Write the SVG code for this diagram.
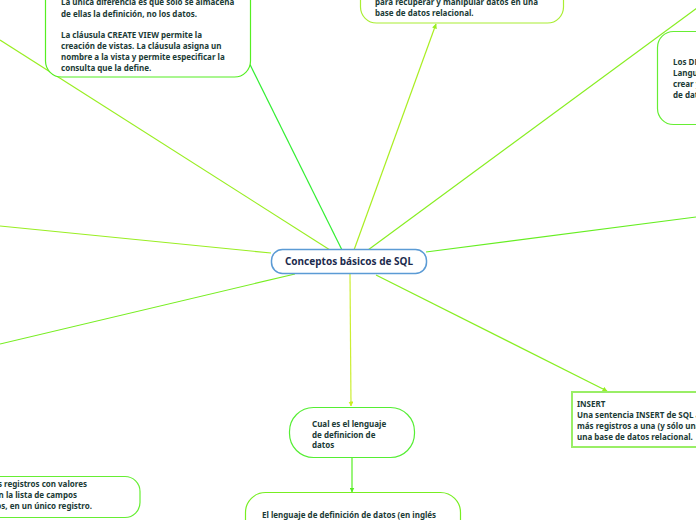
<svg xmlns="http://www.w3.org/2000/svg" width="696" height="520" viewBox="0 0 696 520">
<defs>
<marker id="ah" viewBox="0 0 10 10" refX="9" refY="5" markerWidth="5" markerHeight="5" orient="auto" markerUnits="userSpaceOnUse"><path d="M0,0 L10,5 L0,10 z" fill="#99ee22"/></marker>
<marker id="ahy" viewBox="0 0 10 10" refX="9" refY="5" markerWidth="5" markerHeight="5" orient="auto" markerUnits="userSpaceOnUse"><path d="M0,0 L10,5 L0,10 z" fill="#ccee22"/></marker>
<marker id="ahg" viewBox="0 0 10 10" refX="9" refY="5" markerWidth="5" markerHeight="5" orient="auto" markerUnits="userSpaceOnUse"><path d="M0,0 L10,5 L0,10 z" fill="#55ee22"/></marker>
</defs>
<style>
.t{font-family:"Noto Sans","Open Sans",sans-serif;font-weight:bold;font-size:8px;fill:#1b3b36}
.c{font-family:"Noto Sans","Open Sans",sans-serif;font-weight:bold;font-size:10px;fill:#1c2b4d}
.n{fill:#ffffff;stroke-width:1.2}
.l{fill:none;stroke-width:1.2}
</style>
<rect width="696" height="520" fill="#ffffff"/>
<g id="connectors">
<line class="l" x1="330" y1="250" x2="0" y2="40" stroke="#99ee22"/>
<line class="l" x1="342" y1="250" x2="218" y2="0" stroke="#33ee33"/>
<line class="l" x1="354" y1="250" x2="436" y2="24" stroke="#aaee22" marker-end="url(#ah)"/>
<line class="l" x1="368" y1="250" x2="697" y2="8" stroke="#88ee22"/>
<line class="l" x1="426" y1="252" x2="696" y2="217" stroke="#66ee22"/>
<line class="l" x1="271" y1="253" x2="0" y2="226" stroke="#99ee22"/>
<line class="l" x1="295" y1="274" x2="0" y2="344" stroke="#77ee22"/>
<line class="l" x1="350" y1="274" x2="351" y2="406" stroke="#ccee33" marker-end="url(#ahy)"/>
<line class="l" x1="376" y1="275" x2="607" y2="391" stroke="#88ee22" marker-end="url(#ah)"/>
<line class="l" x1="352" y1="457" x2="352" y2="492" stroke="#55ee22" marker-end="url(#ahg)"/>
</g>
<g id="node-vista">
<rect class="n" x="45.5" y="-60" width="205" height="137" rx="16" stroke="#55ee22"/>
<text class="t" x="61" y="4.5">La única diferencia es que sólo se almacena</text>
<text class="t" x="61" y="16.5">de ellas la definición, no los datos.</text>
<text class="t" x="61" y="37.5">La cláusula CREATE VIEW permite la</text>
<text class="t" x="61" y="48.5">creación de vistas. La cláusula asigna un</text>
<text class="t" x="61" y="59.5">nombre a la vista y permite especificar la</text>
<text class="t" x="61" y="70.5">consulta que la define.</text>
</g>
<g id="node-sql">
<rect class="n" x="360.5" y="-40" width="203" height="63" rx="16" stroke="#aaee33"/>
<text class="t" x="375" y="4.5">para recuperar y manipular datos en una</text>
<text class="t" x="375" y="16">base de datos relacional.</text>
</g>
<g id="node-ddl">
<rect class="n" x="657.5" y="31.5" width="80" height="93" rx="16" stroke="#66ee33"/>
<text class="t" x="673" y="65">Los DDL (Data Definition</text>
<text class="t" x="673" y="76">Language) permiten</text>
<text class="t" x="673" y="87">crear y definir nuevas bases</text>
<text class="t" x="673" y="98">de datos, campos e índices.</text>
</g>
<g id="node-central">
<rect x="271.5" y="249.5" width="155" height="24" rx="11" fill="#ffffff" stroke="#5b9bd5" stroke-width="1.5"/>
<text class="c" x="349" y="265" text-anchor="middle">Conceptos básicos de SQL</text>
</g>
<g id="node-insert">
<rect x="572" y="392" width="140" height="55" fill="#ffffff" stroke="#99ee66" stroke-width="2"/>
<text class="t" x="577" y="407">INSERT</text>
<text class="t" x="577" y="418">Una sentencia INSERT de SQL agrega uno o</text>
<text class="t" x="577" y="429">más registros a una (y sólo una) tabla en</text>
<text class="t" x="577" y="440">una base de datos relacional.</text>
</g>
<g id="node-cual">
<rect class="n" x="289.5" y="407.5" width="125" height="50" rx="24" stroke="#55ee33"/>
<text class="t" x="312" y="427">Cual es el lenguaje</text>
<text class="t" x="312" y="437.5">de definicion de</text>
<text class="t" x="312" y="448">datos</text>
</g>
<g id="node-lenguaje">
<rect class="n" x="245.5" y="492.5" width="215" height="60" rx="20" stroke="#77ee22"/>
<text class="t" x="262" y="518">El lenguaje de definición de datos (en inglés</text>
</g>
<g id="node-valores">
<rect class="n" x="-80" y="476.5" width="220" height="41" rx="15" stroke="#66ee33"/>
<text class="t" x="87" y="487" text-anchor="end">Inserta uno o más registros con valores</text>
<text class="t" x="77" y="498" text-anchor="end">especificados en la lista de campos</text>
<text class="t" x="92" y="509" text-anchor="end">de los campos, en un único registro.</text>
</g>
</svg>
